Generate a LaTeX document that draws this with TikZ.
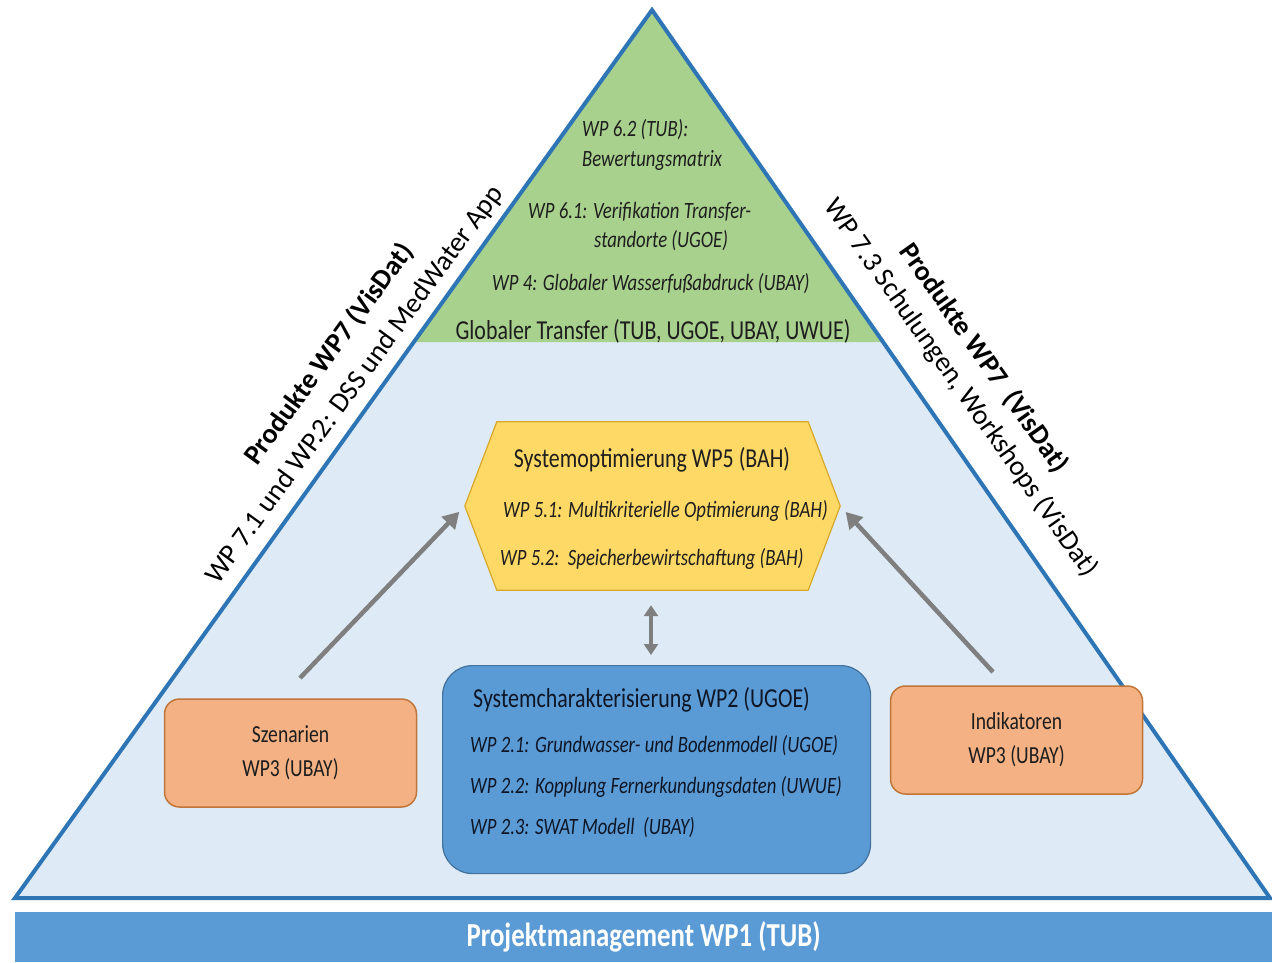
\documentclass[tikz,border=0pt]{standalone}
\usepackage{fontspec}
\setmainfont[FakeStretch=0.8]{Carlito}
\newfontfamily\rf{Carlito}
\usetikzlibrary{arrows.meta,calc}
\definecolor{grn}{HTML}{A9D18E}
\definecolor{lbl}{HTML}{DEEBF7}
\definecolor{tri}{HTML}{2E75B6}
\definecolor{yel}{HTML}{FFD966}
\definecolor{yelb}{HTML}{D9A82A}
\definecolor{bbox}{HTML}{5B9BD5}
\definecolor{bboxb}{HTML}{41719C}
\definecolor{org}{HTML}{F4B183}
\definecolor{orgb}{HTML}{C0763A}
\definecolor{gry}{HTML}{7F7F7F}
\definecolor{tx}{HTML}{1E1E1E}
\definecolor{txb}{HTML}{0E1626}
\begin{document}
\begin{tikzpicture}[x=1pt,y=-1pt,
  hd/.style={inner sep=0pt, font=\fontsize{27.4}{30}\selectfont, text=tx},
  itx/.style={inner sep=0pt, font=\fontsize{23.4}{26}\selectfont\itshape, text=tx},
  obox/.style={draw=orgb, line width=1.5pt, fill=org, rounded corners=15pt, minimum width=252pt, minimum height=108pt, align=center, font=\fontsize{24.5}{34}\selectfont, text=tx},
  rb/.style={inner sep=0pt, font=\rf\bfseries\fontsize{28}{32}\selectfont, text=black},
  rr/.style={inner sep=0pt, font=\rf\fontsize{28}{32}\selectfont, text=black},
  garrow/.style={draw=gry, line width=4.5pt, -{Triangle[length=16pt,width=18pt]}},
  darrow/.style={draw=gry, line width=4pt, {Triangle[length=11pt,width=14pt]}-{Triangle[length=11pt,width=14pt]}}
]
\useasboundingbox (0,0) rectangle (1272,962);
\fill[white] (0,0) rectangle (1272,962);
% triangle
\coordinate (ap) at (652,10);
\coordinate (bl) at (15,898);
\coordinate (br) at (1270,898);
\fill[lbl] (ap) -- (bl) -- (br) -- cycle;
\fill[grn] (ap) -- (414,342) -- (883,342) -- cycle;
\draw[tri, line width=4pt, line join=miter] (ap) -- (bl) -- (br) -- cycle;
% bottom bar
\node[fill=bbox, minimum width=1257pt, minimum height=50pt, inner sep=0pt, anchor=north west,
      font=\bfseries\fontsize{33.5}{36}\selectfont, text=white] (pm) at (15,912) {Projektmanagement WP1 (TUB)};
% green texts
\node[itx, anchor=west] (t62a) at (582,130) {WP 6.2 (TUB):};
\node[itx, anchor=west] (t62b) at (582,160) {Bewertungsmatrix};
\node[itx, anchor=west] (t61a) at (528,212) {WP 6.1: Verifikation Transfer-};
\node[itx, anchor=west] (t61b) at (594,241) {standorte (UGOE)};
\node[itx, anchor=west] (t4) at (492,284) {WP 4: Globaler Wasserfußabdruck (UBAY)};
\node[hd] (gt) at (653,331) {Globaler Transfer (TUB, UGOE, UBAY, UWUE)};
% side labels
\node[rb, rotate=53.9] (lb) at (329,354) {Produkte WP7 (VisDat)};
\node[rr, rotate=53.9] (lr) at (355,385) {WP 7.1 und WP.2: DSS und MedWater App};
\node[rb, rotate=-54.8] (rbl) at (984,358) {Produkte WP7\ \ (VisDat)};
\node[rr, rotate=-54.8] (rrl) at (961,388) {WP 7.3 Schulungen, Workshops (VisDat)};
% hexagon
\node[minimum width=375pt, minimum height=168pt, inner sep=0pt] (hex) at (652.5,506) {};
\draw[fill=yel, draw=yelb, line width=1.2pt] (hex.west) -- ($(hex.north west)+(32,0)$) -- ($(hex.north east)+(-32,0)$)
  -- (hex.east) -- ($(hex.south east)+(-32,0)$) -- ($(hex.south west)+(32,0)$) -- cycle;
\node[hd] (h0) at (652,460) {Systemoptimierung WP5 (BAH)};
\node[itx, anchor=west] (h1) at (503,511) {WP 5.1: Multikriterielle Optimierung (BAH)};
\node[itx, anchor=west] (h2) at (500,559) {WP 5.2:\ \ Speicherbewirtschaftung (BAH)};
% blue box
\node[draw=bboxb, line width=1.2pt, fill=bbox, rounded corners=30pt, minimum width=428pt, minimum height=208pt, anchor=north west] (sys) at (442,665) {};
\node[hd, text=txb, anchor=west] (s0) at (473,700) {Systemcharakterisierung WP2 (UGOE)};
\node[itx, text=txb, anchor=west] (s1) at (470,746) {WP 2.1: Grundwasser- und Bodenmodell (UGOE)};
\node[itx, text=txb, anchor=west] (s2) at (470,787) {WP 2.2: Kopplung Fernerkundungsdaten (UWUE)};
\node[itx, text=txb, anchor=west] (s3) at (470,828) {WP 2.3: SWAT Modell\ \ (UBAY)};
% orange boxes
\node[obox] (sz) at (290.5,753) {Szenarien\\WP3 (UBAY)};
\node[obox] (ind) at (1016.5,740) {Indikatoren\\WP3 (UBAY)};
% arrows
\coordinate (a1s) at (300,678);
\coordinate (a2s) at (993,672);
\draw[garrow, shorten >=8pt] (a1s) -- (hex.west);
\draw[garrow, shorten >=8pt] (a2s) -- (hex.east);
\draw[darrow, shorten <=15pt, shorten >=10pt] ([xshift=-1.5pt]hex.south) -- ([xshift=-1.5pt]hex.south |- sys.north);
\end{tikzpicture}
\end{document}
